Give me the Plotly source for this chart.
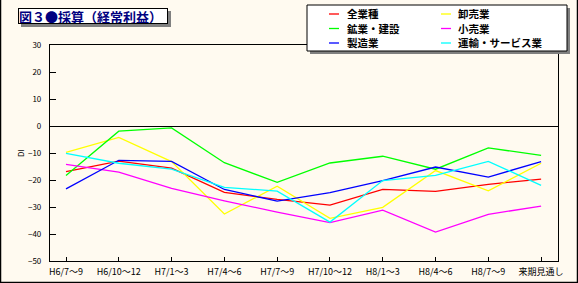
import plotly.graph_objects as go

categories = ["H6/7～9", "H6/10～12", "H7/1～3", "H7/4～6", "H7/7～9",
              "H7/10～12", "H8/1～3", "H8/4～6", "H8/7～9", "来期見通し"]

all_industries = [-16.9, -13.0, -15.6, -24.6, -27.2, -29.3, -23.5, -24.2, -21.6, -19.7]
wholesale = [-9.8, -4.2, -13.2, -32.6, -22.3, -34.2, -30.1, -16.5, -24.0, -13.8]
mining_construction = [-18.3, -1.9, -0.7, -13.6, -20.9, -13.7, -11.2, -16.0, -8.1, -10.9]
retail = [-14.2, -17.1, -23.1, -27.7, -31.9, -35.8, -31.2, -39.3, -32.7, -29.7]
manufacturing = [-23.3, -12.7, -13.1, -23.5, -27.8, -24.7, -20.2, -15.2, -18.9, -13.2]
transport_service = [-10.1, -13.8, -16.0, -22.7, -24.1, -35.6, -20.2, -18.3, -13.1, -22.0]

series_names = ["全業種", "卸売業", "鉱業・建設", "小売業", "製造業", "運輸・サービス業"]
series_values = [all_industries, wholesale, mining_construction, retail,
                 manufacturing, transport_service]
series_colors = ["#FF0000", "#FFFF00", "#00FF00", "#FF00FF", "#0000FF", "#00FFFF"]

y_ticks = [-50, -40, -30, -20, -10, 0, 10, 20, 30]

W, H = 578, 283
L, R, T, B = 50, 20, 45, 22
PW, PH = W - L - R, H - T - B
BG = "#FFFAF0"
FONT = "Noto Sans CJK JP"


def px(x):
    return (x - L) / PW


def py(y):
    return (H - B - y) / PH


fig = go.Figure()
for name, vals, col in zip(series_names, series_values, series_colors):
    fig.add_trace(go.Scatter(x=categories, y=vals, mode="lines", name=name,
                             line=dict(color=col, width=1.3), showlegend=False))

shapes = []
annotations = []

# window border (left, right, bottom)
for (x0, y0, x1, y1) in [(0.5, 0, 0.5, H), (W - 0.5, 0, W - 0.5, H), (0, H - 0.5, W, H - 0.5)]:
    shapes.append(dict(type="line", xref="paper", yref="paper",
                       x0=px(x0), x1=px(x1), y0=py(y0), y1=py(y1),
                       line=dict(color="black", width=1.5), layer="above"))

# title box shadow + box
shapes.append(dict(type="rect", xref="paper", yref="paper",
                   x0=px(21), x1=px(171), y0=py(11), y1=py(27),
                   fillcolor="#808080", line=dict(width=0), layer="above"))
annotations.append(dict(xref="paper", yref="paper", x=px(18), y=py(8),
                        xanchor="left", yanchor="top", showarrow=False,
                        text="<b>図３●採算（経常利益）</b>",
                        font=dict(family=FONT, size=13, color="#000080"),
                        bgcolor="white", bordercolor="black", borderwidth=1,
                        borderpad=0, width=148, height=14, align="left"))

# legend box shadow + box
shapes.append(dict(type="rect", xref="paper", yref="paper",
                   x0=px(310), x1=px(570), y0=py(8), y1=py(54),
                   fillcolor="#808080", line=dict(width=0), layer="above"))
shapes.append(dict(type="rect", xref="paper", yref="paper",
                   x0=px(307), x1=px(567), y0=py(5), y1=py(51),
                   fillcolor="white", line=dict(color="black", width=1), layer="above"))

col_line_x = [329, 441]
col_text_x = [345, 456]
row_y = [14, 28.5, 43]
for i, (name, col) in enumerate(zip(series_names, series_colors)):
    c, r = i % 2, i // 2
    shapes.append(dict(type="line", xref="paper", yref="paper",
                       x0=px(col_line_x[c]), x1=px(col_line_x[c] + 10),
                       y0=py(row_y[r]), y1=py(row_y[r]),
                       line=dict(color=col, width=1.3), layer="above"))
    annotations.append(dict(xref="paper", yref="paper", x=px(col_text_x[c]), y=py(row_y[r]),
                            xanchor="left", yanchor="middle", showarrow=False,
                            text="<b>" + name + "</b>",
                            font=dict(family=FONT, size=10.5, color="black")))

fig.update_layout(
    width=W, height=H,
    margin=dict(l=L, r=R, t=T, b=B, pad=0, autoexpand=False),
    paper_bgcolor=BG, plot_bgcolor=BG,
    showlegend=False,
    shapes=shapes, annotations=annotations,
    xaxis=dict(type="category", range=[-0.303, 9.32], showgrid=False, automargin=False,
               showline=True, linecolor="black", linewidth=1.2, mirror=True,
               ticks="inside", ticklen=4, tickcolor="black", zeroline=False,
               ticklabelstandoff=2,
               tickfont=dict(family=FONT, size=9, color="black")),
    yaxis=dict(range=[-50, 30], tickvals=y_ticks, showgrid=False, automargin=False,
               showline=True, linecolor="black", linewidth=1.2, mirror=True,
               ticks="inside", ticklen=6, tickcolor="black",
               zeroline=True, zerolinecolor="black", zerolinewidth=1.2,
               ticklabelstandoff=6,
               tickfont=dict(family=FONT, size=8, color="black"),
               title=dict(text="DI", font=dict(family=FONT, size=8, color="black"),
                          standoff=2)),
)

fig.write_html("out.html")
